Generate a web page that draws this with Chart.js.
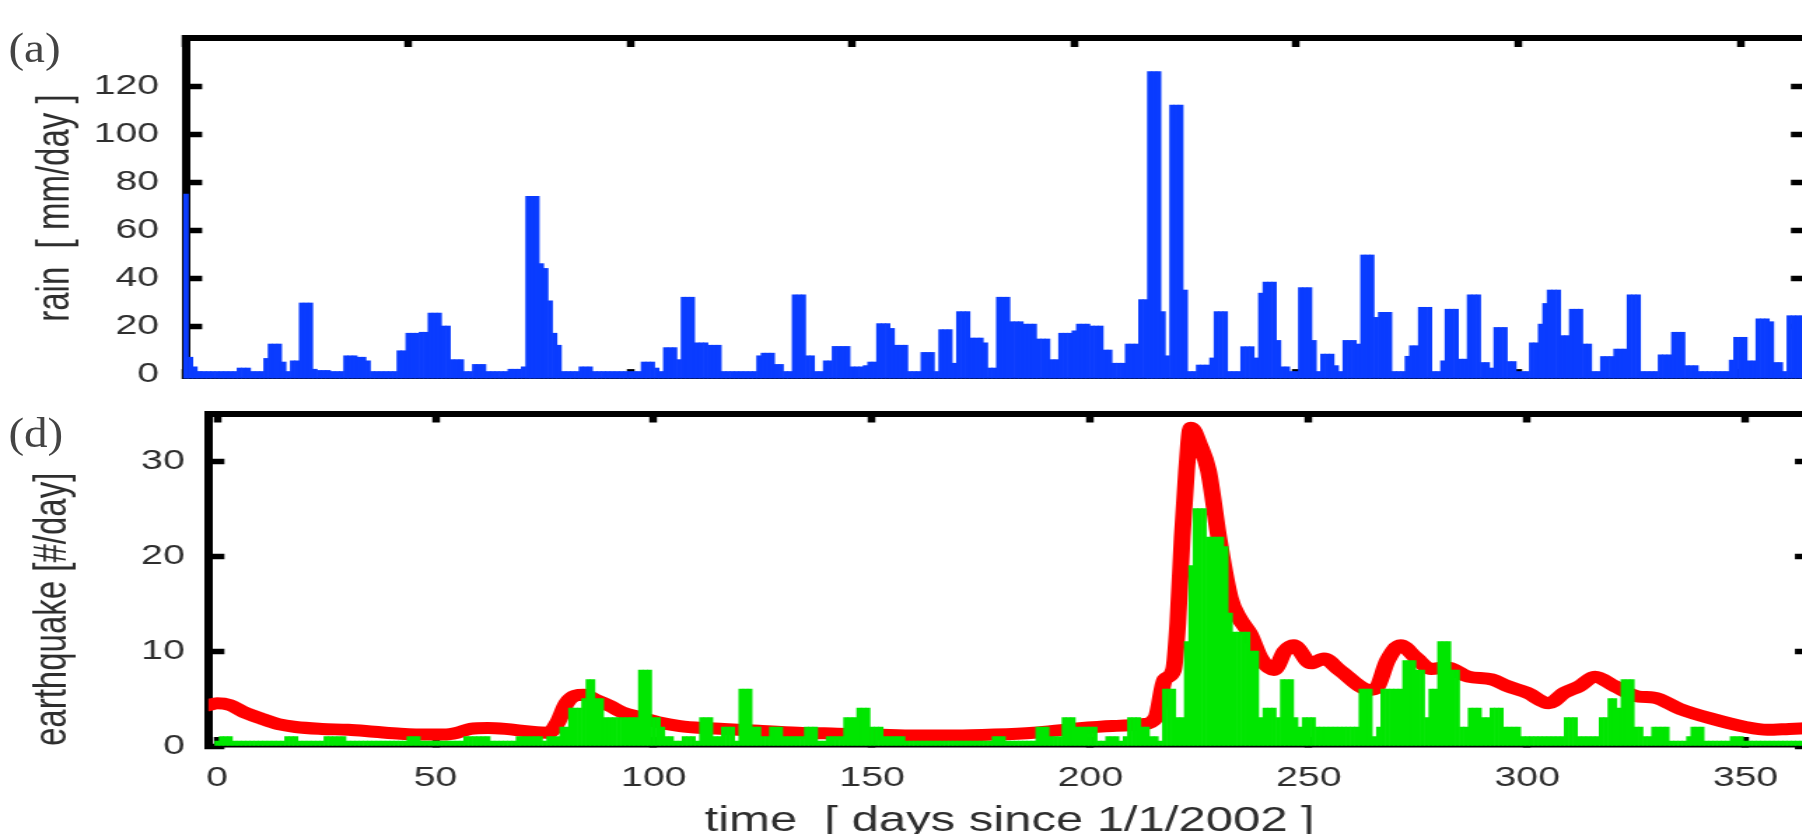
<!DOCTYPE html>
<html>
<head>
<meta charset="utf-8">
<title>Rain and earthquake rate, 2002</title>
<script src="https://cdn.jsdelivr.net/npm/chart.js@4.4.1/dist/chart.umd.min.js"></script>
<style>
  html, body { margin: 0; padding: 0; background: #fff; overflow: hidden; }
  /* the printed figure is stretched sideways, so draw narrow and widen */
  #figure { position: absolute; left: 0; top: 0; width: 1300px; height: 850px;
            transform: scaleX(1.4); transform-origin: 0 0; }
  #figure canvas { position: absolute; left: 0; }
  .panel-tag { position: absolute; font-family: "Liberation Serif", "DejaVu Serif", serif;
               font-size: 42px; color: #444; line-height: 1;
               transform: scaleX(0.8); transform-origin: 0 0; }
</style>
</head>
<body>
<div id="figure">
  <canvas id="rain-chart" width="1300" height="500" style="top:-60px"></canvas>
  <canvas id="quake-chart" width="1300" height="520" style="top:330px"></canvas>
  <div class="panel-tag" style="left:6px; top:27px">(a)</div>
  <div class="panel-tag" style="left:6px; top:412px">(d)</div>
</div>
<script>
// Values
const dayTicks = [0, 50, 100, 150, 200, 250, 300, 350];
const rainTicks = [0, 20, 40, 60, 80, 100, 120];
const quakeTicks = [0, 10, 20, 30];

// daily rain [mm/day], day 0 .. 364
const rainMm = [
  75, 7, 3, 0, 0, 0, 0, 0, 0, 0,
  0, 0, 2.5, 2.5, 2.5, 0, 0, 0, 6.5, 12.5,
  12.5, 12.5, 5, 0, 5.5, 5.5, 29.6, 29.6, 29.6, 2,
  1.5, 1.5, 1.5, 0, 0, 0, 7.6, 7.6, 7.6, 7,
  7, 5.5, 0, 0, 0, 0, 0, 0, 9.7, 9.7,
  17, 17, 17, 17.4, 17.4, 25.4, 25.4, 25.4, 20, 20,
  6, 6, 6, 1, 1, 4, 4, 4, 0.5, 0.5,
  0.5, 0.5, 0.5, 2, 2, 2, 3, 74, 74, 74,
  46, 44, 30.5, 17, 12, 0, 0, 0, 0, 3,
  3, 3, 0, 0, 0, 0, 0, 0, 0, 0,
  0, 0, 0, 5, 5, 5, 2.5, 0, 11, 11,
  11, 6, 32, 32, 32, 13, 13, 13, 12, 12,
  12, 1, 1, 1, 1, 1, 1, 1, 1, 7.6,
  8.7, 8.7, 8.7, 4, 4, 0, 0, 33, 33, 33,
  7.6, 7.6, 0, 0, 5.5, 5.5, 11.5, 11.5, 11.5, 11.5,
  3, 3, 3, 3.5, 5, 5, 21, 21, 21, 19,
  12, 12, 12, 0, 0, 0, 9, 9, 9, 0,
  18.5, 18.5, 18.5, 4.5, 26, 26, 26, 15, 15, 15,
  13, 2.5, 2.5, 32, 32, 32, 21.8, 21.8, 21.8, 20.8,
  20.8, 20.8, 14.6, 14.6, 14.6, 6, 6, 17, 17, 17,
  18, 20.8, 20.8, 20.8, 20, 20, 20, 10, 10, 4.5,
  4.5, 4.5, 12.5, 12.5, 12.5, 31, 31, 126, 126, 126,
  26, 7.6, 112, 112, 112, 35, 0, 0, 3.75, 3.75,
  3.75, 6.7, 26, 26, 26, 0, 0, 0, 11.4, 11.4,
  11.4, 6.7, 33.7, 38.3, 38.3, 38.3, 14, 3, 3, 0,
  0, 36, 36, 36, 14, 0, 8.3, 8.3, 8.3, 3.5,
  0, 14, 14, 14, 12.5, 49.6, 49.6, 49.6, 23.6, 25.7,
  25.7, 25.7, 0, 0, 0, 7.4, 11.8, 11.8, 27.8, 27.8,
  27.8, 0, 0, 5.5, 27, 27, 27, 6.2, 6.2, 33,
  33, 33, 4.8, 4.8, 2.5, 19.4, 19.4, 19.4, 5.2, 5.2,
  0, 0, 0, 13, 13, 20.8, 29.4, 35, 35, 35,
  16, 16, 27, 27, 27, 12.5, 12.5, 0, 0, 7.3,
  7.3, 7.3, 10.4, 10.4, 10.4, 33, 33, 33, 0, 0,
  0, 0, 8, 8, 8, 17.4, 17.4, 17.4, 3.5, 3.5,
  3.5, 0, 0, 0, 0, 0, 0, 0, 5.8, 15.3,
  15.3, 15.3, 5.5, 5.5, 23, 23, 23, 21.8, 4.8, 4.8,
  0, 24.3, 24.3, 24.3, 24.3
];

// daily number of earthquakes, day 0 .. 364
const quakeCount = [
  0, 1, 1, 1, 0, 0, 0, 0, 0, 0,
  0, 0, 0, 0, 0, 0, 1, 1, 1, 0,
  0, 0, 0, 0, 0, 1, 1, 1, 1, 1,
  0, 0, 0, 0, 0, 0, 0, 0, 0, 0,
  0, 0, 0, 0, 1, 1, 1, 0, 0, 0,
  0, 0, 0, 0, 0, 0, 0, 1, 1, 1,
  1, 1, 1, 0, 0, 0, 0, 0, 0, 1,
  1, 1, 1, 1, 1, 0, 1, 1, 1, 2,
  2, 4, 4, 4, 5, 7, 7, 5, 5, 3,
  3, 3, 3, 3, 3, 3, 3, 8, 8, 8,
  3, 3, 2, 1, 1, 0, 0, 1, 1, 1,
  0, 3, 3, 3, 1, 1, 2, 2, 2, 0,
  6, 6, 6, 2, 2, 1, 1, 2, 2, 2,
  1, 1, 1, 1, 1, 2, 2, 2, 0, 0,
  1, 1, 1, 1, 3, 3, 3, 4, 4, 4,
  2, 2, 2, 1, 1, 1, 1, 1, 0, 0,
  0, 0, 0, 0, 0, 0, 0, 0, 0, 0,
  0, 0, 0, 0, 0, 0, 0, 0, 1, 1,
  1, 0, 0, 0, 0, 0, 0, 0, 2, 2,
  2, 1, 1, 1, 3, 3, 3, 2, 2, 2,
  2, 2, 0, 0, 1, 1, 1, 0, 1, 3,
  3, 3, 2, 2, 1, 1, 0, 6, 6, 6,
  3, 3, 11, 19, 25, 25, 25, 22, 22, 22,
  22, 21, 14, 12, 12, 12, 12, 10, 10, 3,
  4, 4, 4, 3, 7, 7, 7, 3, 2, 3,
  3, 3, 2, 2, 2, 2, 2, 2, 2, 2,
  2, 2, 6, 6, 6, 1, 2, 6, 6, 6,
  6, 6, 9, 9, 9, 8, 8, 3, 6, 6,
  11, 11, 11, 8, 8, 2, 2, 4, 4, 4,
  3, 3, 4, 4, 4, 2, 2, 2, 2, 1,
  1, 1, 1, 1, 1, 1, 1, 1, 1, 3,
  3, 3, 1, 1, 1, 1, 1, 3, 3, 5,
  5, 4, 7, 7, 7, 2, 2, 1, 1, 2,
  2, 2, 2, 0, 0, 0, 0, 1, 2, 2,
  2, 0, 0, 0, 0, 0, 0, 1, 1, 1,
  0, 0, 0, 0, 0, 0, 0, 0, 0, 0,
  0, 0, 0, 0, 0
];

// smoothed earthquake rate (red curve), points picked along the curve
const rateDay = [
  -2, 0, 3, 6, 10, 14, 18, 24, 30, 36,
  42, 48, 52, 55, 58, 62, 66, 72, 76, 78,
  80, 82, 84, 87, 90, 93, 97, 101, 106, 111,
  116, 124, 133, 142, 151, 160, 169, 178, 187, 196,
  205, 212, 215, 217, 219, 220, 221, 222, 223, 225,
  227, 229.5, 232, 234, 236.5, 239, 242, 244.5, 246.5, 250.5,
  253.5, 257, 264, 265.5, 268, 271, 274.5, 278, 281.5, 286.5,
  292, 295.5, 300, 305, 308.5, 312, 315.5, 320, 325.5, 329,
  335, 342, 350, 355, 360, 365
];
const rateValue = [
  4.3, 4.5, 4.3, 3.6, 2.9, 2.3, 2.0, 1.8, 1.7, 1.5,
  1.3, 1.2, 1.2, 1.4, 1.8, 1.9, 1.8, 1.5, 1.4, 2.5,
  4.5, 5.3, 5.4, 4.8, 4.2, 3.5, 3.0, 2.5, 2.1, 1.9,
  1.8, 1.6, 1.4, 1.3, 1.2, 1.1, 1.1, 1.2, 1.4, 1.8,
  2.1, 2.3, 3.0, 7.0, 8.0, 13, 22, 29, 33.5, 31.7,
  29, 21.6, 15.6, 13.5, 11.8, 9.2, 8.0, 10, 10.6, 8.7,
  9.2, 8.0, 5.9, 6.1, 9.0, 10.6, 9.3, 8.1, 8.3, 7.3,
  7.0, 6.3, 5.6, 4.5, 5.6, 6.3, 7.3, 6.3, 5.2, 5.1,
  3.9, 2.9, 2.0, 1.7, 1.8, 1.9
];

const FONT = '"Liberation Sans", Arial, sans-serif';
const INK = '#2e2e2e';
const BLUE = '#0a3cff';
const GREEN = '#00e600';
const RED = '#ff0000';

// One side of the black frame; tick marks point into the plot
function frameSide(axis, position, o) {
  return {
    type: 'linear',
    axis: axis,
    position: position,
    min: o.min,
    max: o.max,
    offset: false,
    z: o.z || 0,
    afterBuildTicks: s => { s.ticks = o.ticks.map(v => ({ value: v })); },
    afterFit: s => { if (axis === 'x') s.height = o.size; else s.width = o.size; },
    grid: {
      display: true, offset: false, drawOnChartArea: false, drawTicks: true,
      tickLength: -o.tick, tickWidth: 5.5, tickColor: '#000'
    },
    border: { display: true, color: '#000', width: o.border || 6 },
    ticks: o.labels
      ? { display: true, padding: o.pad, color: INK, font: { family: FONT, size: 28 },
          maxRotation: 0, autoSkip: false }
      : { display: false },
    title: o.title || { display: false }
  };
}

const baseOptions = {
  responsive: false,
  animation: false,
  events: [],
  layout: { padding: 0, autoPadding: false },
  plugins: { legend: { display: false }, tooltip: { enabled: false } }
};

// (a) rain
new Chart(document.getElementById('rain-chart'), {
  type: 'bar',
  data: {
    datasets: [{
      data: rainMm.map((v, i) => ({ x: i, y: v })),
      backgroundColor: BLUE,
      borderWidth: 0,
      barPercentage: 1,
      categoryPercentage: 1,
      base: -1.7,
      minBarLength: 6.6,
      clip: false
    }]
  },
  options: Object.assign({}, baseOptions, {
    scales: {
      x: frameSide('x', 'bottom', { min: 0, max: 365, ticks: dayTicks, size: 61.9, tick: 9, border: 2, z: 1 }),
      xTop: frameSide('x', 'top', { min: 0, max: 365, ticks: dayTicks, size: 98, tick: 9 }),
      y: frameSide('y', 'left', {
        min: -1.7, max: 140, ticks: rainTicks, size: 132.9, tick: 11.5, labels: true, pad: 30.8,
        title: { display: true, text: 'rain  [ mm/day ]', color: INK,
                 font: { family: FONT, size: 33 }, padding: { top: 20 } }
      }),
      yRight: frameSide('y', 'right', { min: -1.7, max: 140, ticks: rainTicks, size: 9.3, tick: 11.5 })
    }
  })
});

// (d) earthquakes
new Chart(document.getElementById('quake-chart'), {
  type: 'bar',
  data: {
    datasets: [{
      type: 'bar',
      data: quakeCount.map((v, i) => ({ x: i, y: v })),
      backgroundColor: GREEN,
      borderWidth: 0,
      barPercentage: 1,
      categoryPercentage: 1,
      minBarLength: 5,
      order: 1
    }, {
      type: 'line',
      data: rateDay.map((d, i) => ({ x: d, y: rateValue[i] })),
      borderColor: RED,
      borderWidth: 12,
      borderCapStyle: 'round',
      borderJoinStyle: 'round',
      cubicInterpolationMode: 'monotone',
      pointRadius: 0,
      fill: false,
      clip: 0,
      order: 2
    }]
  },
  options: Object.assign({}, baseOptions, {
    scales: {
      x: frameSide('x', 'bottom', {
        min: -2, max: 365, ticks: dayTicks, size: 104, tick: 9, border: 2.5, z: 1,
        labels: true, pad: 24.3,
        title: { display: true, text: 'time  [ days since 1/1/2002 ]', color: INK,
                 font: { family: FONT, size: 35 }, padding: { top: 0, bottom: 8 } }
      }),
      xTop: frameSide('x', 'top', { min: -2, max: 365, ticks: dayTicks, size: 83.5, tick: 9 }),
      y: frameSide('y', 'left', {
        min: 0, max: 35, ticks: quakeTicks, size: 148.8, tick: 11.5, labels: true, pad: 28.3,
        title: { display: true, text: 'earthquake [#/day]', color: INK, align: 'start',
                 font: { family: FONT, size: 33 }, padding: { top: 18 } }
      }),
      yRight: frameSide('y', 'right', { min: 0, max: 35, ticks: quakeTicks, size: 6.4, tick: 11.5 })
    }
  })
});
</script>
</body>
</html>
